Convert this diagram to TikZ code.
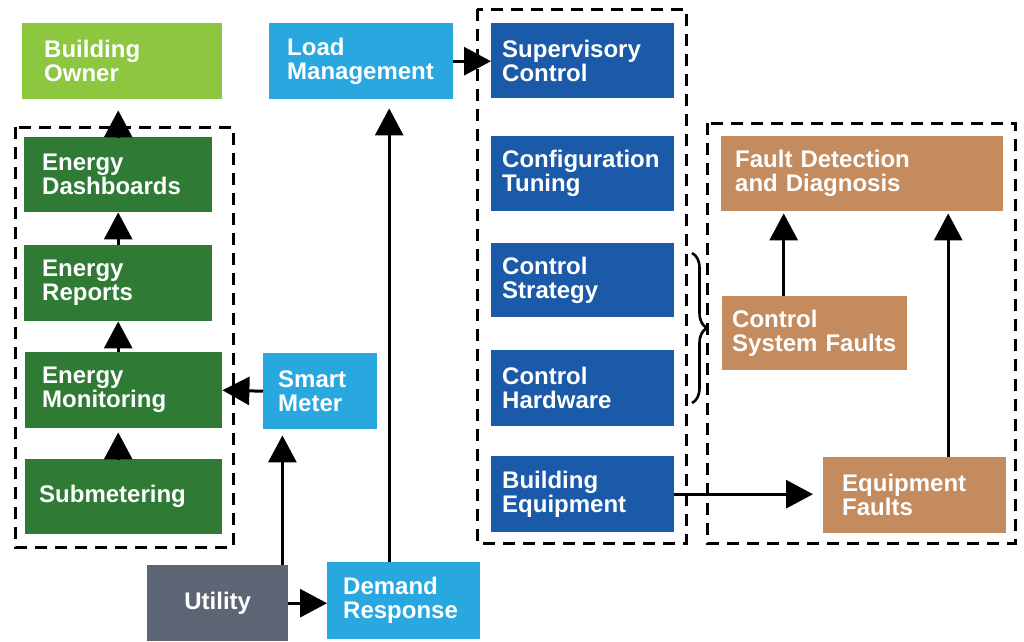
\documentclass[tikz,border=0pt]{standalone}
\usepackage{fontspec}
\setmainfont{Liberation Sans}
\usetikzlibrary{arrows.meta, decorations.pathreplacing}

\definecolor{ownergreen}{RGB}{141,198,63}
\definecolor{energygreen}{RGB}{47,122,52}
\definecolor{lightblue}{RGB}{41,168,224}
\definecolor{ctrlblue}{RGB}{27,90,168}
\definecolor{utilgray}{RGB}{93,101,117}
\definecolor{faultbrown}{RGB}{196,139,95}

\begin{document}
\begin{tikzpicture}[x=1pt, y=-1pt,
    blk/.style={anchor=north west, inner ysep=0pt, align=left, text=white,
        font=\fontsize{24}{24}\selectfont\bfseries},
    grp/.style={dash pattern=on 12pt off 8pt, line width=3pt},
    flow/.style={line width=3pt, -{Triangle[width=28pt,length=27pt]}}]
    \useasboundingbox (0,0) rectangle (1024,641);

    % energy side
    \node[blk, fill=ownergreen, text width=156pt, inner xsep=22pt, minimum height=76pt] (owner) at (22,23) {Building\\Owner};
    \node[blk, fill=energygreen, text width=152pt, inner xsep=18pt, minimum height=75pt] (dashb) at (24,137) {Energy\\Dashboards};
    \node[blk, fill=energygreen, text width=152pt, inner xsep=18pt, minimum height=76pt] (reports) at (24,245) {Energy\\Reports};
    \node[blk, fill=energygreen, text width=163pt, inner xsep=17pt, minimum height=76pt] (monitor) at (25,352) {Energy\\Monitoring};
    \node[blk, fill=energygreen, text width=169pt, inner xsep=14pt, minimum height=75pt] (submeter) at (25,459) {Submetering};
    \draw[grp] (15,127) rectangle (233,547);

    % utility side
    \node[blk, fill=lightblue, text width=84pt, inner xsep=15pt, minimum height=76pt] (smart) at (263,353) {Smart\\Meter};
    \node[blk, fill=utilgray, align=center, text width=121pt, inner xsep=10pt, minimum height=76pt] (utility) at (147,565) {Utility};
    \node[blk, fill=lightblue, text width=121pt, inner xsep=16pt, minimum height=77pt] (demand) at (327,562) {Demand\\Response};
    \node[blk, fill=lightblue, text width=148pt, inner xsep=18pt, minimum height=76pt] (load) at (269,23) {Load\\Management};

    % control stack
    \node[blk, fill=ctrlblue, text width=161pt, inner xsep=11pt, minimum height=75pt] (superv) at (491,23) {Supervisory\\Control};
    \node[blk, fill=ctrlblue, text width=161pt, inner xsep=11pt, minimum height=75pt] (config) at (491,136) {Configuration\\Tuning};
    \node[blk, fill=ctrlblue, text width=161pt, inner xsep=11pt, minimum height=74pt] (strategy) at (491,243) {Control\\Strategy};
    \node[blk, fill=ctrlblue, text width=161pt, inner xsep=11pt, minimum height=76pt] (hardware) at (491,350) {Control\\Hardware};
    \node[blk, fill=ctrlblue, text width=161pt, inner xsep=11pt, minimum height=76pt] (equip) at (491,456) {Building\\Equipment};
    \draw[grp] (477,9) rectangle (686,543);

    % faults
    \node[blk, fill=faultbrown, text width=254pt, inner xsep=14pt, minimum height=75pt] (fdd) at (721,136) {Fault Detection\\and Diagnosis};
    \node[blk, fill=faultbrown, text width=165pt, inner xsep=10pt, minimum height=74pt] (csf) at (722,296) {Control\\System Faults};
    \node[blk, fill=faultbrown, text width=145pt, inner xsep=19pt, minimum height=76pt] (eqfault) at (823,457) {Equipment\\Faults};
    \draw[grp] (707,123) rectangle (1015,543);

    \draw[line width=2.6pt, decorate, decoration={brace, amplitude=15pt}] (692,253) -- (692,403);

    % connectors
    \draw[flow, shorten >=11pt] (dashb.north) -- (dashb.north |- owner.south);
    \draw[flow] (reports.north) -- (dashb.south);
    \draw[flow] (monitor.north -| reports.north) -- (reports.south);
    \draw[flow, shorten >=4pt] (submeter.north -| reports.north) -- (monitor.south -| reports.north);
    \draw[flow] (smart.west) -- (monitor.east);
    \draw[flow, shorten >=6pt] ([xshift=-6pt]utility.north east) -- ([xshift=-6pt]utility.north east |- smart.south);
    \draw[flow] (utility.east) -- (utility.east -| demand.west);
    \draw[flow, shorten >=9pt] ([xshift=-14.5pt]demand.north) -- ([xshift=-14.5pt]demand.north |- load.south);
    \draw[flow] (load.east) -- (load.east -| superv.west);
    \draw[flow, shorten >=10pt] (equip.east) -- (equip.east -| eqfault.west);
    \draw[flow, shorten >=2pt] ([xshift=-31pt]csf.north) -- ([xshift=-31pt]csf.north |- fdd.south);
    \draw[flow, shorten >=2pt] ([xshift=33.5pt]eqfault.north) -- ([xshift=33.5pt]eqfault.north |- fdd.south);
\end{tikzpicture}
\end{document}
